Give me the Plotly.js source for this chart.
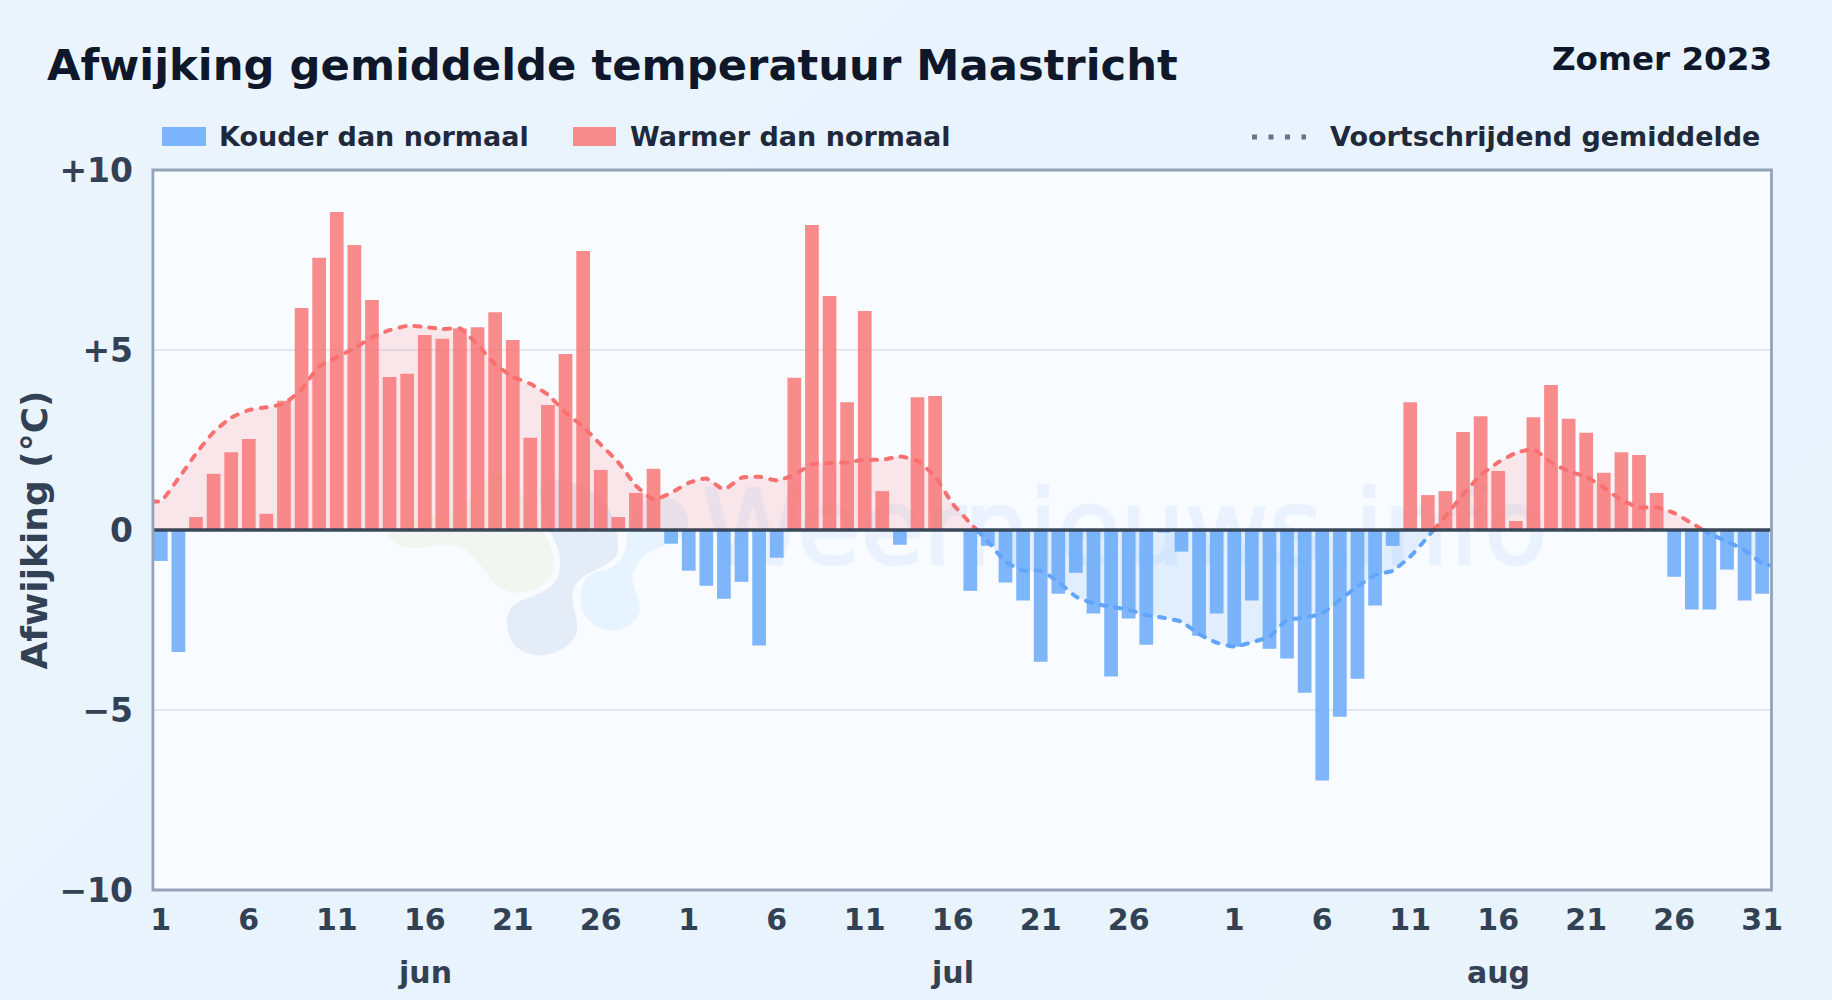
<!DOCTYPE html>
<html><head><meta charset="utf-8">
<script src="https://cdn.plot.ly/plotly-3.0.1.min.js"></script>
<style>
html,body{margin:0;padding:0;width:1832px;height:1000px;overflow:hidden;background:linear-gradient(135deg,#ecf5fd 0%,#e8f3fd 45%,#e8f3fc 100%);}
#plotbg{position:absolute;left:152px;top:170px;width:1619px;height:720px;background:#f8fbff;overflow:hidden;}
#wm{position:absolute;left:550px;top:299px;font-family:"DejaVu Sans",sans-serif;font-size:102.5px;line-height:120px;color:#3b82f6;-webkit-text-stroke:2.5px #3b82f6;opacity:0.07;white-space:nowrap;}
#chart{position:absolute;left:0;top:0;width:1832px;height:1000px;}
.js-line{stroke-linecap:round;}
</style></head><body><div id="plotbg"><span id="wm"></span></div><div id="chart"></div>
<script>
// ---------- data ----------
const anomalyJun = [-0.86,-3.39,0.36,1.56,2.16,2.53,0.45,3.59,6.17,7.56,8.83,7.92,6.39,4.25,4.34,5.42,5.31,5.60,5.63,6.05,5.28,2.56,3.47,4.89,7.75,1.67,0.36,1.03,1.70,-0.38];
const anomalyJul = [-1.13,-1.55,-1.91,-1.44,-3.21,-0.77,4.23,8.47,6.50,3.55,6.08,1.08,-0.41,3.69,3.72,0,-1.69,-0.44,-1.46,-1.96,-3.66,-1.77,-1.19,-2.32,-4.07,-2.46,-3.19,-0.07,-0.60,-2.94,-2.32];
const anomalyAug = [-3.24,-1.96,-3.30,-3.57,-4.52,-6.96,-5.19,-4.13,-2.10,-0.44,3.55,0.97,1.08,2.72,3.16,1.64,0.25,3.13,4.03,3.09,2.70,1.59,2.16,2.08,1.03,-1.30,-2.21,-2.21,-1.10,-1.96,-1.77];
const trendJun = [0.80,1.43,2.12,2.72,3.12,3.33,3.41,3.51,3.91,4.55,4.80,5.05,5.35,5.55,5.67,5.64,5.58,5.60,5.15,4.60,4.26,4.06,3.76,3.26,2.87,2.37,1.88,1.23,0.85,1.03];
const trendJul = [1.31,1.43,1.13,1.45,1.48,1.38,1.53,1.83,1.86,1.88,1.95,1.95,2.04,1.92,1.48,0.73,0.19,-0.32,-0.88,-1.13,-1.13,-1.44,-1.85,-2.04,-2.13,-2.22,-2.36,-2.44,-2.55,-2.89,-3.13];
const trendAug = [-3.24,-3.12,-2.96,-2.50,-2.44,-2.31,-1.94,-1.57,-1.25,-1.13,-0.74,-0.19,0.39,0.98,1.53,1.88,2.14,2.24,1.88,1.63,1.48,1.18,0.83,0.63,0.63,0.47,0.19,-0.10,-0.32,-0.56,-0.93];
const monthNames = ['jun','jul','aug'];
const monthLengths = [30,31,31];
const monthLabelDay = [16,16,16];
const tickDayStep = 5;
const yTickValues = [10,5,0,-5,-10];
const yTickLabels = ['+10','+5','0','\u22125','\u221210'];
const titleText = 'Afwijking gemiddelde temperatuur Maastricht';
const periodText = 'Zomer 2023';
const yTitleText = 'Afwijking (\u00b0C)';
const coldName = 'Kouder dan normaal';
const warmName = 'Warmer dan normaal';
const trendName = 'Voortschrijdend gemiddelde';
const watermarkText = 'Weernieuws.info';

// ---------- style ----------
const FONT = '"DejaVu Sans", sans-serif';
const COLD = 'rgba(96,165,250,0.8)', WARM = 'rgba(248,113,113,0.8)';
const COLD_LINE = '#60a5fa', WARM_LINE = '#f87171';
const COLD_FILL = 'rgba(96,165,250,0.15)', WARM_FILL = 'rgba(248,113,113,0.15)';
const L=152,R=1771,T=170,B=890;
const PX=x=>(x-L)/(R-L), PY=y=>(B-y)/(B-T);

// ---------- derived from data ----------
document.getElementById('wm').textContent = watermarkText;
const anomaly = [...anomalyJun,...anomalyJul,...anomalyAug];
const trend = [...trendJun,...trendJul,...trendAug];
const idx = anomaly.map((_,i)=>i);
const tickvals=[], ticktext=[]; const monthAnn=[];
let off=0;
monthLengths.forEach((n,m)=>{
  for(let d=1;d<=n;d+=tickDayStep){
    // no label right next to the first of the following month
    if(m<monthLengths.length-1 && d+1>n) continue;
    tickvals.push(off+d-1);ticktext.push(String(d));
  }
  monthAnn.push({x:off+monthLabelDay[m]-1,text:monthNames[m]});
  off+=n;
});
// trend runs to the plot edges: first and last value are held half a day
const tx=[-0.5,...idx,idx.length-0.5];
const ty=[trend[0],...trend,trend[trend.length-1]-0.05];
// split at zero crossings into warm / cold runs
const runs=[]; let cur={sign:Math.sign(ty[0]),x:[tx[0]],y:[ty[0]]};
for(let i=1;i<tx.length;i++){
  const s=Math.sign(ty[i]);
  if(s!==cur.sign){
    const xc=tx[i-1]+(tx[i]-tx[i-1])*ty[i-1]/(ty[i-1]-ty[i]);
    cur.x.push(xc);cur.y.push(0);runs.push(cur);
    cur={sign:s,x:[xc],y:[0]};
  }
  cur.x.push(tx[i]);cur.y.push(ty[i]);
}
runs.push(cur);

const traces=[
 {type:'bar',name:coldName,x:idx,y:anomaly.map(v=>v<0?v:null),width:0.78,marker:{color:COLD,line:{width:0}},showlegend:false,hoverinfo:'y'},
 {type:'bar',name:warmName,x:idx,y:anomaly.map(v=>v>0?v:null),width:0.78,marker:{color:WARM,line:{width:0}},showlegend:false,hoverinfo:'y'},
 ...runs.map(r=>({type:'scatter',mode:'lines',name:trendName,x:r.x,y:r.y,fill:'tozeroy',
   fillcolor:r.sign>0?WARM_FILL:COLD_FILL,
   line:{color:r.sign>0?WARM_LINE:COLD_LINE,width:4,dash:'6px,9px',shape:'spline',smoothing:0.5},
   showlegend:false,hoverinfo:'y'}))
];

// smooth closed path through pixel points, in paper units
function blob(pts){
  const m=(a,b)=>[(a[0]+b[0])/2,(a[1]+b[1])/2], p=q=>PX(q[0]).toFixed(4)+','+PY(q[1]).toFixed(4);
  let s='M'+p(m(pts[pts.length-1],pts[0]));
  pts.forEach((q,i)=>{s+=' Q'+p(q)+' '+p(m(q,pts[(i+1)%pts.length]));});
  return s+' Z';
}
const zp=(x,y)=>[370+x/3,440+y/3];
const greenBlob=[[40,275],[90,325],[180,320],[270,310],[335,375],[370,435],[440,465],[525,440],[560,370],[530,290],[470,180],[400,90],[330,120],[300,200],[150,240]].map(a=>zp(...a));
const slateBlob=[[405,550],[430,625],[515,655],[605,615],[628,560],[600,470],[625,415],[690,385],[745,350],[745,290],[720,200],[640,130],[500,110],[520,240],[575,340],[565,430],[490,470],[425,490]].map(a=>zp(...a));
const skyBlob=[[625,470],[650,545],[725,580],[795,550],[815,500],[790,440],[785,395],[825,340],[900,310],[960,280],[950,200],[880,160],[800,190],[770,270],[770,330],[735,385],[650,400]].map(a=>zp(...a));

const layout={
 width:1832,height:1000,
 margin:{l:L,r:1832-R,t:T,b:1000-B,pad:0},
 paper_bgcolor:'rgba(0,0,0,0)',plot_bgcolor:'rgba(0,0,0,0)',
 font:{family:FONT,color:'#334155'},
 barmode:'overlay',
 title:{text:titleText,x:47/1832,xanchor:'left',y:1-65/1000,yanchor:'middle',font:{family:FONT,size:43.3,weight:700,color:'#0f172a'}},
 xaxis:{range:[-0.5,idx.length-0.5],tickmode:'array',tickvals,ticktext,tickangle:0,showgrid:false,zeroline:false,
   showline:false,ticks:'',ticklabelstandoff:9,
   tickfont:{family:FONT,size:30,weight:700,color:'#334155'},fixedrange:true},
 yaxis:{range:[-10,10],tickmode:'array',tickvals:yTickValues,ticktext:yTickLabels,tickangle:0,showgrid:true,gridcolor:'#e2e8f0',gridwidth:2,zeroline:false,
   showline:false,ticks:'',ticklabelstandoff:18,
   tickfont:{family:FONT,size:33,weight:700,color:'#334155'},fixedrange:true,
   title:{text:yTitleText,standoff:0,font:{family:FONT,size:36,weight:700,color:'#334155'}}},
 shapes:[
   {type:'path',xref:'paper',yref:'paper',path:blob(greenBlob),fillcolor:'rgba(190,215,110,0.10)',line:{width:0},layer:'below'},
   {type:'path',xref:'paper',yref:'paper',path:blob(slateBlob),fillcolor:'rgba(90,140,190,0.13)',line:{width:0},layer:'below'},
   {type:'path',xref:'paper',yref:'paper',path:blob(skyBlob),fillcolor:'rgba(96,180,250,0.11)',line:{width:0},layer:'below'},
   {type:'line',xref:'paper',yref:'y',x0:0,x1:1,y0:0,y1:0,line:{color:'#334155',width:3.6},layer:'above',opacity:0.95},
   {type:'rect',xref:'paper',yref:'paper',x0:PX(152.9),x1:PX(1771.5),y0:PY(890),y1:PY(170),line:{color:'#94a3b8',width:2.8},layer:'above'},
   {type:'rect',xref:'paper',yref:'paper',x0:PX(162),x1:PX(206),y0:PY(146),y1:PY(127),fillcolor:COLD,line:{width:0}},
   {type:'rect',xref:'paper',yref:'paper',x0:PX(573),x1:PX(616),y0:PY(146),y1:PY(127),fillcolor:WARM,line:{width:0}},
   {type:'line',xref:'paper',yref:'paper',x0:PX(1252),x1:PX(1306),y0:PY(137),y1:PY(137),line:{color:'#64748b',width:5,dash:'5px,11.5px'}}
 ],
 annotations:[
   {xref:'paper',yref:'paper',x:PX(1773.5),y:PY(59),xanchor:'right',yanchor:'middle',showarrow:false,text:periodText,font:{family:FONT,size:32.6,weight:700,color:'#0f172a'}},
   {xref:'paper',yref:'paper',x:PX(217),y:PY(137),xanchor:'left',yanchor:'middle',showarrow:false,text:coldName,font:{family:FONT,size:27,weight:700,color:'#1e293b'}},
   {xref:'paper',yref:'paper',x:PX(628),y:PY(137),xanchor:'left',yanchor:'middle',showarrow:false,text:warmName,font:{family:FONT,size:27,weight:700,color:'#1e293b'}},
   {xref:'paper',yref:'paper',x:PX(1328),y:PY(137),xanchor:'left',yanchor:'middle',showarrow:false,text:trendName,font:{family:FONT,size:27,weight:700,color:'#1e293b'}},
   ...monthAnn.map(a=>({xref:'x',yref:'paper',x:a.x,y:PY(972),xanchor:'center',yanchor:'middle',showarrow:false,text:a.text,font:{family:FONT,size:30,weight:700,color:'#334155'}}))
 ]
};
Plotly.newPlot('chart',traces,layout,{displayModeBar:false,responsive:false});
</script></body></html>
